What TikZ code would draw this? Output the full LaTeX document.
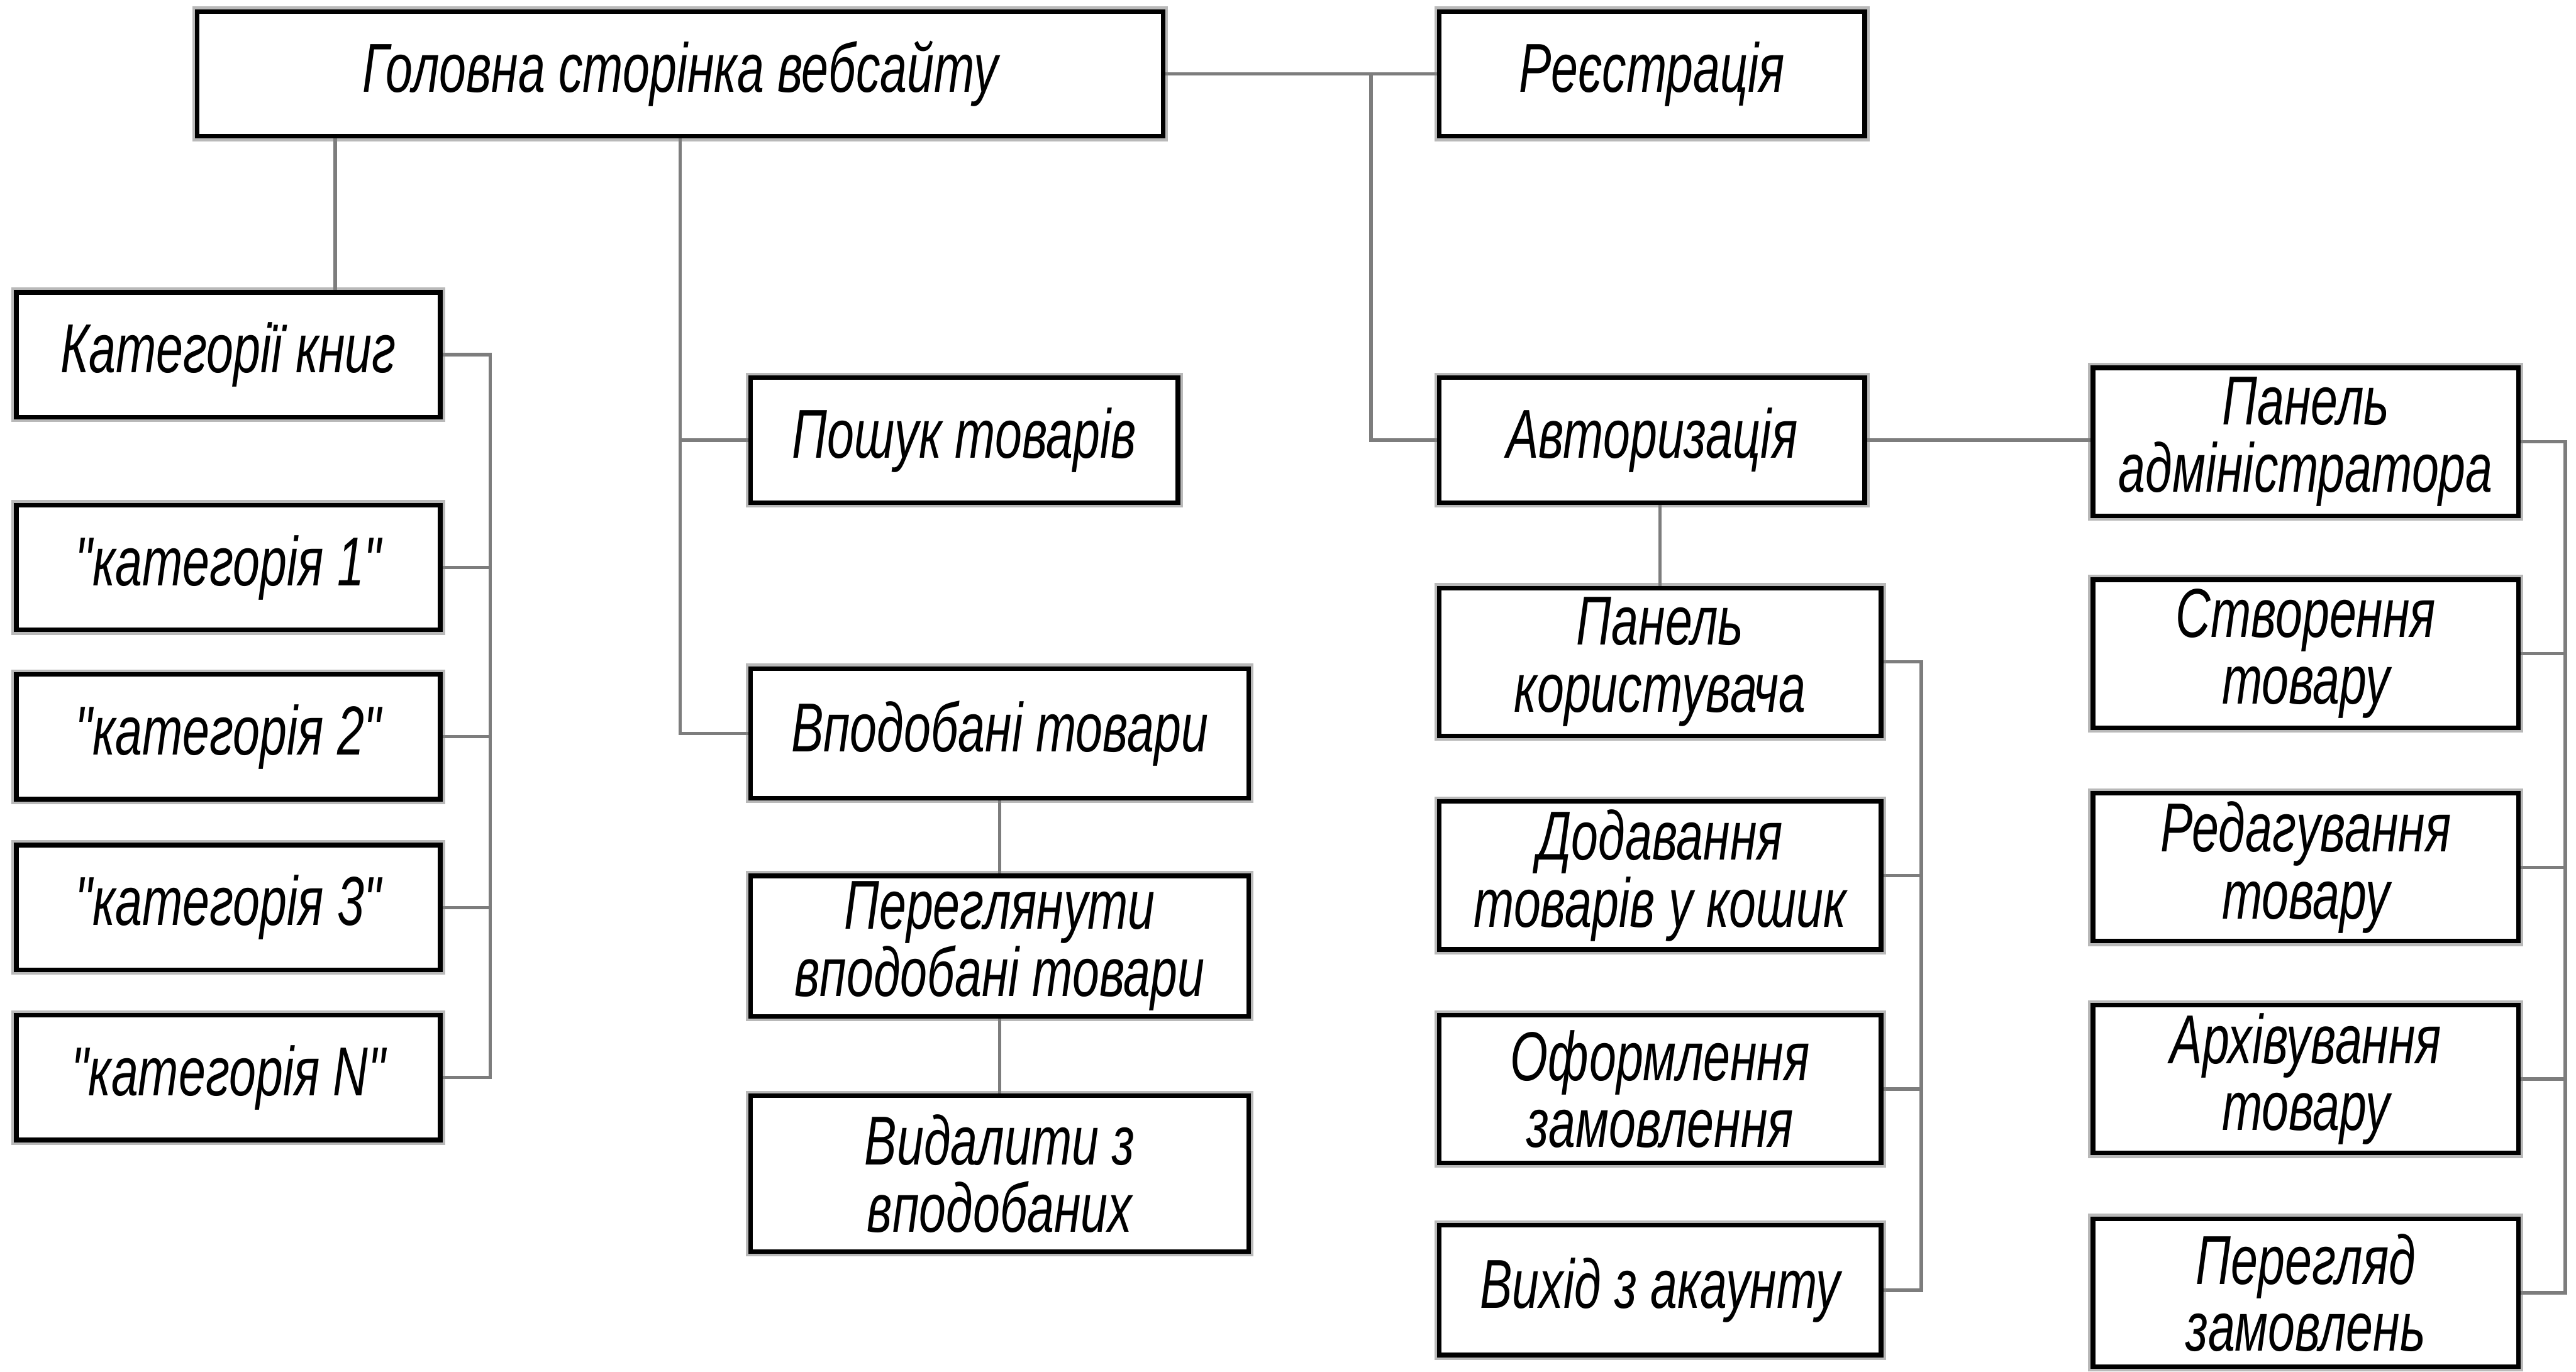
\documentclass[tikz,border=0pt]{standalone}
\usepackage{fontspec}
\newfontfamily\gost[FakeStretch=0.7]{Liberation Sans}
\usetikzlibrary{positioning,calc}
\definecolor{wire}{RGB}{125,125,125}
\definecolor{rim}{RGB}{185,185,185}
\tikzset{
  item/.style={draw=black,line width=0.8pt,fill=white,
    preaction={draw=rim,line width=1.7pt},
    minimum width=#1,minimum height=7.6mm,inner sep=1pt,align=center,
    font=\gost\itshape\fontsize{12}{11.6}\selectfont},
  item/.default=25.9mm,
  link/.style={draw=wire,line width=0.6pt},
}
\begin{document}
\begin{tikzpicture}
  \useasboundingbox (0,0) rectangle (15.68,-8.35);
  % top level
  \node[item=58.8mm] (home) at (4.14,-0.45) {Головна сторінка вебсайту};
  \node[item] (reg) at (10.055,-0.45) {Реєстрація};
  \node[item] (auth) at (10.055,-2.68) {Авторизація};
  % categories
  \node[item=25.8mm] (cat) at (1.39,-2.16) {Категорії книг};
  \node[item=25.8mm] (c1) at (1.39,-3.455) {"категорія 1"};
  \node[item=25.8mm] (c2) at (1.39,-4.485) {"категорія 2"};
  \node[item=25.8mm] (c3) at (1.39,-5.525) {"категорія 3"};
  \node[item=25.8mm] (cN) at (1.39,-6.56) {"категорія N"};
  % goods
  \node[item=26mm] (search) at (5.87,-2.68) {Пошук товарів};
  \node[item=30.3mm,minimum height=7.9mm] (liked) at (6.085,-4.465) {Вподобані товари};
  \node[item=30.3mm] (view) at (6.085,-5.76) {Переглянути\\вподобані товари};
  \node[item=30.3mm,minimum height=9.5mm] (del) at (6.085,-7.145) {Видалити з\\вподобаних};
  % user panel
  \node[item=26.9mm,minimum height=9mm] (upanel) at (10.105,-4.03) {Панель\\користувача};
  \node[item=26.9mm,minimum height=9mm] (cart) at (10.105,-5.33) {Додавання\\товарів у кошик};
  \node[item=26.9mm,minimum height=9mm] (order) at (10.105,-6.63) {Оформлення\\замовлення};
  \node[item=26.9mm,minimum height=7.9mm] (logout) at (10.105,-7.855) {Вихід з акаунту};
  % admin panel
  \node[item,minimum height=9mm] (apanel) at (14.035,-2.69) {Панель\\адміністратора};
  \node[item,minimum height=9mm] (create) at (14.035,-3.98) {Створення\\товару};
  \node[item,minimum height=9mm] (edit) at (14.035,-5.28) {Редагування\\товару};
  \node[item,minimum height=9mm] (arch) at (14.035,-6.57) {Архівування\\товару};
  \node[item,minimum height=9mm] (orders) at (14.035,-7.87) {Перегляд\\замовлень};

  \draw[link] (home.east) -- (reg.west);
  \draw[link] ([xshift=-4mm]reg.west) |- (auth.west);
  \draw[link] ([xshift=6.5mm]cat.north) -- ([xshift=6.5mm]cat.north |- home.south);
  \draw[link] (home.south) |- (liked.west);
  \draw[link] (home.south |- search.west) -- (search.west);
  \draw[link] (cat.east) -- ++(0.29,0) |- (cN.east);
  \foreach \c in {c1,c2,c3} \draw[link] (\c.east) -- ++(0.29,0);
  \draw[link] (liked.south) -- (view.north);
  \draw[link] (view.south) -- (del.north);
  \draw[link] (upanel.north) -- (upanel.north |- auth.south);
  \draw[link] (auth.east) -- (auth.east -| apanel.west);
  \draw[link] (upanel.east) -- ++(0.23,0) |- (logout.east);
  \foreach \c in {cart,order} \draw[link] (\c.east) -- ++(0.23,0);
  \draw[link] (apanel.east) -- ++(0.27,0) |- (orders.east);
  \foreach \c in {create,edit,arch} \draw[link] (\c.east) -- ++(0.27,0);
\end{tikzpicture}
\end{document}
